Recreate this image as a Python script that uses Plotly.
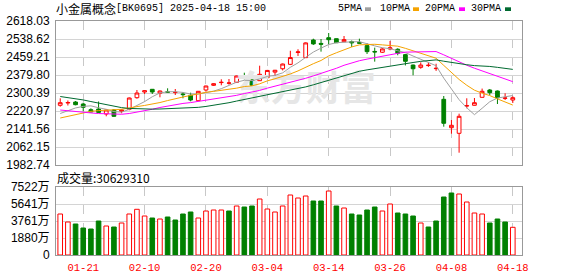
import plotly.graph_objects as go
import pandas as pd

# ---------------- data ----------------
dates = ["01-16", "01-17", "01-20", "01-21", "01-22", "01-23", "01-24", "01-27",
         "02-05", "02-06", "02-07", "02-10", "02-11", "02-12", "02-13", "02-14",
         "02-17", "02-18", "02-19", "02-20", "02-21", "02-24", "02-25", "02-26",
         "02-27", "02-28", "03-03", "03-04", "03-05", "03-06", "03-07", "03-10",
         "03-11", "03-12", "03-13", "03-14", "03-17", "03-18", "03-19", "03-20",
         "03-21", "03-24", "03-25", "03-26", "03-27", "03-28", "03-31", "04-01",
         "04-02", "04-03", "04-07", "04-08", "04-09", "04-10", "04-11", "04-14",
         "04-15", "04-16", "04-17", "04-18"]

opens = [2246.13, 2256.27, 2260.69, 2251.86, 2226.72, 2229.80, 2207.75, 2225.39,
         2219.66, 2228.48, 2279.66, 2304.80, 2316.71, 2299.07, 2305.69, 2302.16,
         2295.98, 2290.24, 2266.42, 2313.63, 2334.36, 2346.27, 2343.63, 2347.60,
         2377.60, 2357.74, 2354.65, 2367.89, 2392.51, 2407.36, 2426.80, 2479.30,
         2456.36, 2534.21, 2519.13, 2544.36, 2539.95, 2526.63, 2527.51, 2523.54,
         2509.42, 2483.71, 2480.19, 2494.75, 2493.42, 2469.60, 2423.71, 2413.54,
         2421.50, 2407.80, 2272.60, 2147.31, 2122.60, 2243.04, 2246.13, 2281.42,
         2313.63, 2309.21, 2276.99, 2269.51]
highs = [2277.01, 2267.30, 2265.10, 2257.60, 2232.89, 2262.89, 2227.60, 2229.80,
         2227.60, 2280.54, 2313.63, 2312.31, 2318.04, 2311.42, 2321.13, 2318.04,
         2304.80, 2301.72, 2309.21, 2332.60, 2343.18, 2360.83, 2362.15, 2376.72,
         2389.95, 2378.48, 2420.83, 2402.30, 2402.30, 2430.30, 2486.80, 2493.42,
         2523.54, 2539.95, 2538.62, 2565.10, 2540.83, 2551.80, 2531.92, 2539.95,
         2520.01, 2500.48, 2499.16, 2530.04, 2497.83, 2472.68, 2425.92, 2435.60,
         2433.86, 2429.42, 2287.16, 2181.27, 2209.07, 2277.01, 2278.33, 2319.86,
         2318.04, 2311.42, 2299.07, 2285.83]
lows = [2239.95, 2245.25, 2246.13, 2219.66, 2215.25, 2212.16, 2197.60, 2194.51,
        2210.83, 2224.07, 2275.24, 2295.98, 2295.98, 2281.42, 2302.60, 2291.57,
        2277.01, 2263.77, 2265.10, 2306.13, 2331.27, 2334.36, 2337.01, 2345.84,
        2360.83, 2328.18, 2353.33, 2367.01, 2369.21, 2399.86, 2423.71, 2463.86,
        2455.04, 2512.51, 2482.83, 2515.60, 2521.33, 2525.42, 2503.24, 2518.45,
        2472.42, 2438.69, 2477.10, 2489.01, 2466.95, 2421.95, 2378.48, 2407.36,
        2415.72, 2397.92, 2151.72, 2120.84, 2036.99, 2232.89, 2245.25, 2280.54,
        2291.57, 2251.86, 2269.51, 2256.27]
closes = [2257.60, 2258.48, 2248.78, 2237.30, 2216.57, 2214.80, 2225.39, 2197.60,
          2225.39, 2278.33, 2300.39, 2310.54, 2304.80, 2309.21, 2303.92, 2303.04,
          2293.33, 2269.51, 2307.89, 2331.27, 2341.42, 2347.60, 2344.51, 2375.39,
          2374.07, 2334.36, 2382.86, 2399.86, 2400.74, 2428.13, 2456.80, 2481.51,
          2521.33, 2516.92, 2515.60, 2535.54, 2522.22, 2535.98, 2521.33, 2520.01,
          2482.83, 2481.51, 2494.75, 2499.60, 2475.77, 2440.21, 2407.36, 2423.71,
          2422.83, 2409.12, 2166.72, 2157.89, 2197.60, 2244.36, 2257.60, 2307.89,
          2301.72, 2279.22, 2278.33, 2279.66]
volumes = [45350000, 36500000, 34290000, 29860000, 28760000, 37600000, 32070000, 30970000,
           35390000, 45350000, 50540000, 43130000, 40920000, 39820000, 42030000, 38710000,
           45350000, 47560000, 40920000, 48660000, 49770000, 49770000, 48660000, 54190000,
           53090000, 54190000, 61940000, 50880000, 47560000, 54190000, 66360000, 63040000,
           65250000, 59720000, 59720000, 70780000, 54190000, 51980000, 45350000, 44240000,
           49770000, 53090000, 48660000, 56410000, 46450000, 45350000, 43130000, 35390000,
           30970000, 37600000, 64150000, 68570000, 67470000, 58620000, 46450000, 45350000,
           35390000, 39820000, 36500000, 30629310]
# closes of the 29 sessions before the window (needed for the moving averages)
prior_closes = [2379.80, 2401.86, 2419.51, 2428.33, 2437.16, 2423.92, 2410.68, 2393.04,
                2384.21, 2362.15, 2335.69, 2313.63, 2291.57, 2278.33, 2269.51, 2251.86,
                2234.22, 2225.39, 2212.16, 2194.51, 2181.27, 2163.63, 2154.80, 2168.04,
                2183.48, 2190.10, 2194.51, 2203.33, 2204.22]

tick_dates = ["01-21", "02-10", "02-20", "03-04", "03-14", "03-26", "04-08", "04-18"]
price_ticks = [1982.74, 2062.15, 2141.56, 2220.97, 2300.39, 2379.80, 2459.21, 2538.62, 2618.03]
vol_ticks = [0, 18805000, 37610000, 56415000, 75220000]
vol_tick_labels = ["0", "1880万", "3761万", "5641万", "7522万"]
ma_periods = [5, 10, 20, 30]
ma_names = ["5PMA", "10PMA", "20PMA", "30PMA"]
ma_colors = ["#a0a0a0", "#f5a300", "#ff00ff", "#006a30"]
title_name = "小金属概念"
title_code = "[BK0695] 2025-04-18 15:00"
watermark = "东方财富"

# ---------------- geometry helpers ----------------
W, H = 578, 276
L, R, T, B = 56, 56, 21, 21
PW, PH = W - L - R, H - T - B


def px(xp):
    return (xp - L) / PW


def py(yp):
    return (H - B - yp) / PH


RED = "#ff0000"
GREEN = "#008000"

x = list(range(len(dates)))
all_closes = pd.Series(prior_closes + closes)
n_prior = len(prior_closes)

fig = go.Figure()

# watermark (below everything)
fig.add_trace(go.Scatter(
    x=[32.0], y=[2305], mode="text", text=[watermark],
    textfont=dict(size=35, color="#e6e6e6", family="Noto Sans CJK SC", weight="bold"),
    xaxis="x", yaxis="y", hoverinfo="skip", showlegend=False))

fig.add_trace(go.Candlestick(
    x=x, open=opens, high=highs, low=lows, close=closes,
    increasing=dict(line=dict(color=RED, width=1), fillcolor="#ffffff"),
    decreasing=dict(line=dict(color=GREEN, width=1), fillcolor=GREEN),
    whiskerwidth=0, xaxis="x", yaxis="y", showlegend=False, hoverinfo="skip"))

for n, name, col in zip(ma_periods, ma_names, ma_colors):
    ma = all_closes.rolling(n).mean().iloc[n_prior:].tolist()
    fig.add_trace(go.Scatter(x=x, y=ma, mode="lines", name=name,
                             line=dict(color=col, width=1), xaxis="x", yaxis="y",
                             hoverinfo="skip", showlegend=False))

prev = [prior_closes[-1]] + closes[:-1]
up = [c >= p for c, p in zip(closes, prev)]
fig.add_trace(go.Bar(
    x=x, y=volumes, width=0.6,
    marker=dict(color=["#ffffff" if u else GREEN for u in up],
                line=dict(color=[RED if u else GREEN for u in up], width=1)),
    xaxis="x2", yaxis="y2", showlegend=False, hoverinfo="skip"))

tickvals = [dates.index(d) for d in tick_dates]
xr = [-0.55, 60.2]
common_x = dict(range=xr, tickvals=tickvals, showgrid=True, gridcolor="#c8c8c8",
                griddash="dash", gridwidth=1, showline=True, mirror=True,
                linecolor="#999999", linewidth=1, zeroline=False,
                fixedrange=True, automargin=False)

fig.update_layout(
    width=W, height=H, margin=dict(l=L, r=R, t=T, b=B, pad=0, autoexpand=False),
    paper_bgcolor="#ffffff", plot_bgcolor="#ffffff",
    hovermode=False, showlegend=False, boxgap=0.3,
    font=dict(family="Liberation Sans, Noto Sans CJK SC", size=12, color="#000000"),
    xaxis=dict(domain=[0, 1], anchor="y", showticklabels=False, ticks="",
               rangeslider=dict(visible=False), **common_x),
    yaxis=dict(domain=[py(165), 1], anchor="x", range=[price_ticks[0], price_ticks[-1]],
               tickvals=price_ticks, ticktext=[f"{v:.2f}" for v in price_ticks],
               showgrid=True, gridcolor="#d4d4d4", gridwidth=1, showline=True, mirror=True,
               linecolor="#999999", zeroline=False, ticks="", ticklabelstandoff=3,
               automargin=False,
               tickfont=dict(family="Liberation Sans", size=12, color="#000000")),
    xaxis2=dict(domain=[0, 1], anchor="y2", matches="x", showticklabels=True,
                ticktext=tick_dates, ticks="outside", ticklen=2,
                tickcolor="rgba(0,0,0,0)",
                tickfont=dict(family="Liberation Mono", size=10.5, color=RED),
                **common_x),
    yaxis2=dict(domain=[0, py(187)], anchor="x2", range=[0, vol_ticks[-1]],
                tickvals=vol_ticks, ticktext=vol_tick_labels,
                showgrid=True, gridcolor="#d4d4d4", gridwidth=1, showline=True, mirror=True,
                linecolor="#999999", zeroline=False, ticks="", ticklabelstandoff=3,
                automargin=False,
                tickfont=dict(family="Liberation Sans, Noto Sans CJK SC", size=12,
                              color="#000000")),
)

ann = []
ann.append(dict(x=px(54), y=py(8.5), xref="paper", yref="paper", text=title_name,
                showarrow=False, xanchor="left", yanchor="middle",
                font=dict(family="Noto Sans CJK SC", size=12, color="#000000")))
ann.append(dict(x=px(114), y=py(8.5), xref="paper", yref="paper", text=title_code,
                showarrow=False, xanchor="left", yanchor="middle",
                font=dict(family="Liberation Mono", size=10, color="#000000")))
leg_text_x = [336, 378, 423, 469]
leg_box_x = [365, 413, 459, 505]
shapes = []
for name, col, tx, bx in zip(ma_names, ma_colors, leg_text_x, leg_box_x):
    ann.append(dict(x=px(tx), y=py(9), xref="paper", yref="paper", text=name,
                    showarrow=False, xanchor="left", yanchor="middle",
                    font=dict(family="Liberation Mono", size=10, color="#000000")))
    shapes.append(dict(type="rect", xref="paper", yref="paper",
                       x0=px(bx), x1=px(bx + 6), y0=py(11), y1=py(7.3),
                       fillcolor=col, line=dict(width=0)))
ann.append(dict(x=px(55), y=py(177.5), xref="paper", yref="paper",
                text=f"成交量:{volumes[-1]}", showarrow=False,
                xanchor="left", yanchor="middle",
                font=dict(family="Noto Sans CJK SC", size=12, color="#000000")))
fig.update_layout(annotations=ann, shapes=shapes)

fig.write_html("out.html")
